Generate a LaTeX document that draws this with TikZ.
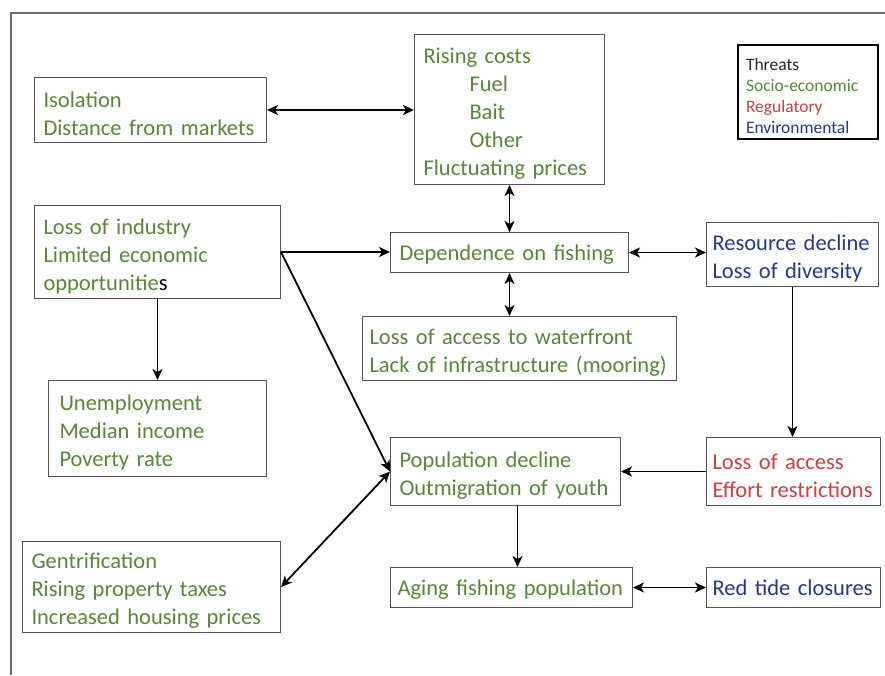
\documentclass[tikz,border=0pt]{standalone}
\usepackage{fontspec}
\setmainfont{Carlito}
\usetikzlibrary{arrows.meta}

\definecolor{socgreen}{RGB}{86,136,56}
\definecolor{regred}{RGB}{205,62,62}
\definecolor{envblue}{RGB}{36,56,140}
\definecolor{boxgrey}{RGB}{85,85,85}
\definecolor{framegrey}{RGB}{110,110,110}

\tikzset{
  >={Stealth[length=11pt,width=10pt,inset=3pt]},   % arrow tips
  threat/.style={draw=boxgrey, line width=1pt, anchor=north west, align=left,
    inner xsep=9pt, inner ysep=0pt, font=\fontsize{22.5}{28}\selectfont,
    execute at begin node={\hyphenpenalty=10000},
    execute at end node={\par\vspace*{-8pt}}},
  link/.style={line width=1.8pt, black}
}

\begin{document}
\begin{tikzpicture}[x=1pt,y=-1pt]
	\useasboundingbox (0,0) rectangle (885,675);
	% frame
	\draw[framegrey, line width=2pt] (11,675) -- (11,13) -- (885,13);

	% socio-economic
	\node[threat, text=socgreen, text width=214pt, minimum height=65pt] (iso) at (34,77)
		{Isolation\\Distance from markets};
	\node[threat, text=socgreen, text width=172pt, minimum height=150pt] (cost) at (414,34)
		{Rising costs\\\hspace*{46pt}Fuel\\\hspace*{46pt}Bait\\\hspace*{46pt}Other\\Fluctuating prices};
	\node[threat, text=socgreen, text width=228pt, minimum height=93pt] (ind) at (34,205)
		{Loss of industry\\Limited economic\\opportunitie{\color{black}s}};
	\node[threat, text=socgreen, text width=220pt, minimum height=40pt] (dep) at (390,232)
		{Dependence on fishing};
	\node[threat, text=socgreen, text width=300pt, minimum height=64pt, inner xsep=7pt] (wat) at (362,316)
		{Loss of access to waterfront\\Lack of infrastructure (mooring)};
	\node[threat, text=socgreen, text width=196pt, minimum height=96pt, inner xsep=11pt] (unemp) at (48,380)
		{Unemployment\\Median income\\Poverty rate};
	\node[threat, text=socgreen, text width=212pt, minimum height=68pt] (pop) at (390,437)
		{Population decline\\Outmigration of youth};
	\node[threat, text=socgreen, text width=240pt, minimum height=91pt] (gent) at (22,541)
		{Gentrification\\Rising property taxes\\Increased housing prices};
	\node[threat, text=socgreen, text width=228pt, minimum height=40pt, inner xsep=7pt] (aging) at (390,567)
		{Aging fishing population};

	% environmental
	\node[threat, text=envblue, text width=160pt, minimum height=64pt, inner xsep=6pt] (res) at (706,222)
		{Resource decline\\Loss of diversity};
	\node[threat, text=envblue, text width=162pt, minimum height=40pt, inner xsep=6pt] (tide) at (706,567)
		{Red tide closures};

	% regulatory
	\node[threat, text=regred, text width=162pt, minimum height=68pt, inner xsep=6pt] (acc) at (706,437)
		{Loss of access\\Effort restrictions};

	% legend
	\node[threat, draw=black, line width=2pt, text width=124pt, minimum height=94pt,
		inner xsep=8pt, font=\fontsize{17.5}{21}\selectfont] (key) at (737,44)
		{{\color{black!85}Threats}\\{\color{socgreen}Socio-economic}\\{\color{regred}Regulatory}\\{\color{envblue}Environmental}};

	% links
	\draw[link,<->] (iso.east) -- (iso.east -| cost.west);
	\draw[link,<->] (cost.south) -- (dep.north);
	\draw[link,<->] (dep.south) -- (dep.south |- wat.north);
	\draw[link,->] (ind.east) -- (ind.east -| dep.west);
	\draw[link,->] (ind.east) -- (pop.west);
	\draw[link,->] (ind.south) -- (ind.south |- unemp.north);
	\draw[link,<->] (gent.east) -- (pop.west);
	\draw[link,<->] (dep.east) -- (dep.east -| res.west);
	\draw[link,->] (res.south) -- (res.south |- acc.north);
	\draw[link,->] (acc.west) -- (pop.east);
	\draw[link,->] ([xshift=12pt]pop.south) -- ([xshift=12pt]pop.south |- aging.north);
	\draw[link,<->] (aging.east) -- (tide.west);
\end{tikzpicture}
\end{document}
